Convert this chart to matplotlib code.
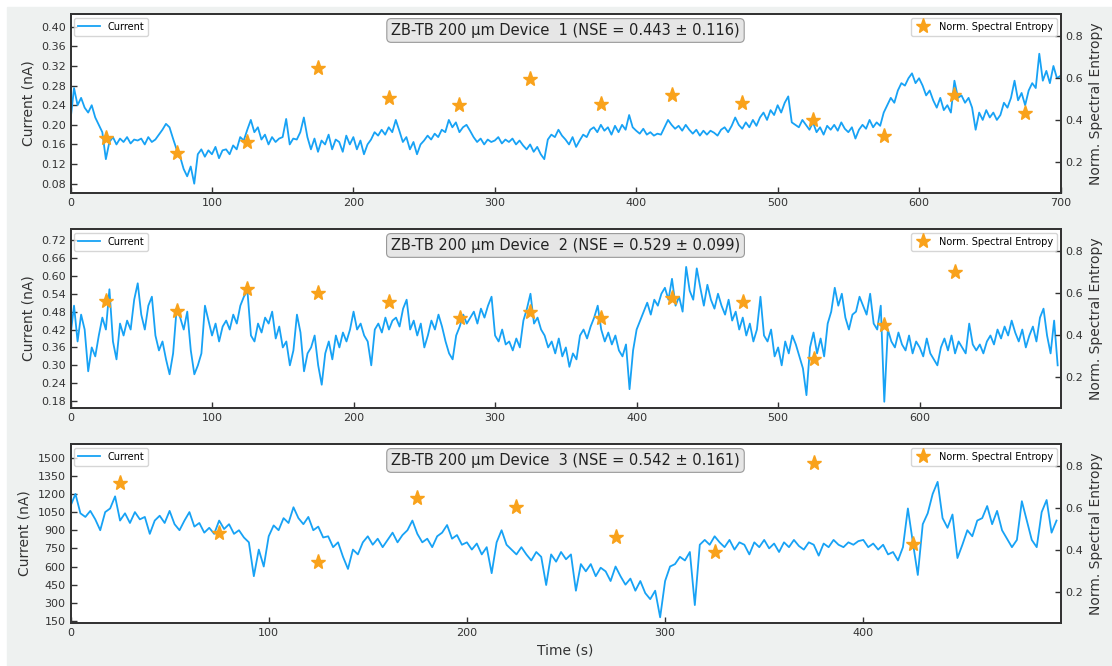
import numpy as np
import matplotlib.pyplot as plt
from matplotlib.patches import Rectangle

# sampling step of the traces (s)
dt = 2.5

# Device 1 current, in pA (converted to nA below)
cur1_pa = [
    210, 275, 240, 255, 235, 225, 240, 215, 200, 185, 130, 165,
    175, 160, 172, 165, 175, 162, 170, 168, 172, 160, 175, 165,
    170, 180, 190, 202, 195, 172, 150, 135, 110, 95, 115, 80,
    140, 150, 135, 148, 140, 155, 132, 148, 150, 140, 158, 150,
    175, 168, 190, 210, 185, 195, 170, 180, 160, 175, 165, 172,
    175, 212, 160, 172, 170, 185, 215, 175, 150, 172, 145, 168,
    160, 180, 150, 170, 165, 145, 178, 160, 175, 150, 168, 140,
    160, 170, 185, 178, 190, 180, 195, 185, 210, 188, 165, 175,
    150, 165, 140, 160, 168, 178, 170, 182, 175, 190, 185, 210,
    195, 205, 185, 195, 200, 188, 175, 165, 172, 160, 170, 165,
    168, 175, 162, 170, 165, 172, 160, 168, 158, 150, 160, 145,
    155, 140, 130, 170, 180, 175, 190, 178, 170, 160, 175, 155,
    168, 180, 175, 190, 195, 185, 200, 188, 195, 180, 198, 185,
    200, 190, 220, 195, 188, 182, 192, 180, 185, 178, 182, 180,
    195, 210, 200, 192, 198, 188, 200, 190, 182, 190, 178, 188,
    180, 188, 184, 178, 190, 195, 185, 198, 215, 200, 192, 205,
    195, 210, 198, 215, 225, 210, 230, 220, 240, 225, 245, 258,
    205, 200, 195, 210, 200, 190, 205, 185, 195, 180, 198, 190,
    200, 188, 205, 192, 185, 195, 172, 190, 200, 192, 210, 195,
    205, 198, 225, 240, 255, 245, 270, 285, 280, 295, 305, 285,
    295, 280, 260, 270, 250, 235, 255, 230, 240, 225, 290, 255,
    260, 245, 255, 235, 190, 225, 210, 230, 215, 225, 210, 220,
    245, 235, 255, 290, 250, 265, 240, 270, 285, 275, 345, 290,
    310, 285, 320, 295, 300,
]

# Device 2 current, in pA
cur2_pa = [
    400, 500, 380, 470, 420, 280, 360, 330, 400, 460, 420, 555,
    380, 320, 440, 400, 450, 420, 520, 575, 470, 420, 500, 530,
    400, 350, 380, 320, 270, 340, 490, 460, 420, 480, 350, 270,
    300, 340, 500, 450, 400, 440, 380, 430, 450, 420, 470, 440,
    500, 530, 550, 400, 380, 440, 410, 460, 440, 480, 390, 430,
    360, 380, 300, 350, 470, 410, 280, 340, 360, 400, 300, 235,
    340, 380, 320, 400, 360, 410, 380, 420, 480, 420, 440, 400,
    380, 300, 420, 440, 410, 460, 420, 450, 460, 430, 490, 520,
    420, 450, 400, 440, 360, 400, 450, 420, 470, 430, 380, 340,
    320, 400, 430, 470, 440, 460, 480, 440, 490, 460, 500, 530,
    400, 380, 420, 370, 380, 350, 390, 360, 450, 490, 540, 440,
    460, 420, 400, 360, 380, 340, 390, 330, 360, 295, 340, 320,
    400, 420, 390, 430, 460, 500, 420, 380, 410, 370, 400, 350,
    330, 370, 220, 350, 420, 450, 480, 510, 470, 520, 500, 540,
    560, 520, 590, 500, 530, 480, 630, 550, 520, 625, 560, 500,
    570, 520, 490, 540, 500, 470, 520, 450, 480, 420, 460, 400,
    440, 380, 420, 530, 400, 380, 420, 330, 360, 300, 380, 340,
    400, 370, 330, 290, 200, 360, 410, 340, 390, 330, 440, 480,
    560, 500, 540, 460, 420, 470, 480, 530, 500, 470, 540, 440,
    420, 500, 178, 420, 380, 360, 410, 370, 350, 400, 340, 380,
    360, 330, 390, 340, 320, 300, 360, 390, 350, 400, 340, 380,
    360, 340, 440, 370, 350, 370, 340, 380, 400, 370, 420, 390,
    430, 400, 450, 410, 380, 420, 360, 400, 430, 380, 460, 490,
    400, 340, 450, 300,
]

# Device 3 current, nA
cur3_na = [
    1100, 1200, 1040, 1010, 1060, 990, 900, 1050, 1080, 1180, 980, 1040,
    960, 1050, 990, 1010, 870, 980, 1020, 960, 1060, 950, 900, 980,
    1050, 930, 960, 880, 920, 870, 980, 910, 950, 870, 900, 840,
    800, 520, 740, 600, 850, 940, 900, 1000, 960, 1090, 1000, 950,
    1010, 900, 930, 840, 850, 760, 800, 680, 580, 740, 700, 800,
    850, 780, 830, 760, 820, 880, 800, 860, 900, 980, 870, 800,
    830, 760, 850, 880, 943, 830, 860, 780, 800, 740, 790, 700,
    760, 545, 800, 900, 780, 740, 700, 760, 700, 650, 720, 680,
    447, 700, 640, 720, 660, 700, 400, 620, 560, 620, 520, 590,
    560, 480, 600, 520, 450, 500, 400, 480, 380, 330, 400, 180,
    480, 600, 620, 680, 650, 720, 281, 780, 820, 780, 850, 800,
    760, 820, 740, 800, 780, 700, 800, 760, 820, 750, 790, 720,
    800, 760, 820, 770, 740, 800, 780, 690, 790, 760, 820, 780,
    760, 800, 780, 810, 820, 760, 790, 740, 780, 700, 720, 650,
    760, 1080, 800, 530, 950, 1040, 1200, 1300, 1000, 920, 1030, 670,
    780, 900, 850, 980, 1000, 1100, 950, 1060, 900, 830, 760, 820,
    1140, 980, 820, 760, 1050, 1150, 880, 980,
]

# normalised spectral entropy per 50 s window
nse_t1 = [25, 75, 125, 175, 225, 275, 325, 375, 425, 475, 525, 575, 625, 675]
nse1 = [0.314, 0.243, 0.298, 0.647, 0.504, 0.472, 0.594, 0.475, 0.52, 0.48,
        0.40, 0.325, 0.52, 0.433]
nse_t2 = [25, 75, 125, 175, 225, 275, 325, 375, 425, 475, 525, 575, 625]
nse2 = [0.564, 0.515, 0.62, 0.602, 0.556, 0.483, 0.512, 0.483, 0.575, 0.559,
        0.286, 0.449, 0.699]
nse_t3 = [25, 75, 125, 175, 225, 275, 325, 375, 425]
nse3 = [0.721, 0.483, 0.343, 0.65, 0.607, 0.461, 0.39, 0.813, 0.43]

titles = ["ZB-TB 200 µm Device  1 (NSE = 0.443 ± 0.116)",
          "ZB-TB 200 µm Device  2 (NSE = 0.529 ± 0.099)",
          "ZB-TB 200 µm Device  3 (NSE = 0.542 ± 0.161)"]

panels = [
    (np.array(cur1_pa) / 1000, nse_t1, nse1, (0, 700), (0.061, 0.426),
     np.arange(0.08, 0.401, 0.04), "{:.2f}"),
    (np.array(cur2_pa) / 1000, nse_t2, nse2, (0, 699.5), (0.157, 0.757),
     np.arange(0.18, 0.721, 0.06), "{:.2f}"),
    (np.array(cur3_na, dtype=float), nse_t3, nse3, (0, 499.5), (133, 1613),
     np.arange(150, 1501, 150), "{:.0f}"),
]

blue = "#17a2f5"
orange = "#f9a21b"
dark = "#333333"
bg = "#eef1f0"

fig, axes = plt.subplots(3, 1, figsize=(11.12, 6.66), dpi=100)
fig.patch.set_facecolor("white")
fig.patches.append(Rectangle((7 / 1112, 0), 1, 1 - 7 / 666, transform=fig.transFigure,
                             color=bg, zorder=-10))
fig.subplots_adjust(left=70.5 / 1112, right=1060.5 / 1112, top=1 - 14 / 666,
                    bottom=1 - 623 / 666, hspace=36 / 179)

for i, (ax, (cur, tn, nse, xl, yl, yt, fmt)) in enumerate(zip(axes, panels)):
    t = np.arange(len(cur)) * dt
    ax.plot(t, cur, color=blue, lw=1.3, label="Current")
    ax.set_xlim(*xl)
    ax.set_ylim(*yl)
    ax.set_yticks(yt)
    ax.set_yticklabels([fmt.format(v) for v in yt])
    ax.set_xticks(np.arange(0, xl[1] + 0.01, 100))
    ax.set_ylabel("Current (nA)", fontsize=10, color=dark)
    ax.tick_params(direction="in", length=4, width=1, labelsize=8, colors=dark,
                   labelcolor=dark)
    ax.legend(loc="upper left", fontsize=7, handlelength=2.2, borderaxespad=0.4)

    ax2 = ax.twinx()
    ax2.plot(tn, nse, linestyle="none", marker="*", ms=11, color=orange,
             label="Norm. Spectral Entropy")
    ax2.set_ylim(0.054, 0.905)
    ax2.set_yticks([0.2, 0.4, 0.6, 0.8])
    ax2.set_ylabel("Norm. Spectral Entropy", fontsize=10, color=dark)
    ax2.tick_params(direction="in", length=4, width=1, labelsize=8, colors=dark,
                    labelcolor=dark)
    ax2.legend(loc="upper right", fontsize=7, handlelength=1.6, borderaxespad=0.4)

    for a in (ax, ax2):
        for s in a.spines.values():
            s.set_linewidth(1.3)
            s.set_color(dark)

    ax.text(0.5, 0.908, titles[i], transform=ax.transAxes, ha="center", va="center",
            fontsize=10.5, color="#222222", zorder=5,
            bbox=dict(boxstyle="round,pad=0.3", fc="#e6e6e6", ec="#999999", lw=0.8))

axes[-1].set_xlabel("Time (s)", fontsize=10, color=dark)

fig.savefig("out.png", dpi=100, facecolor=fig.get_facecolor())
